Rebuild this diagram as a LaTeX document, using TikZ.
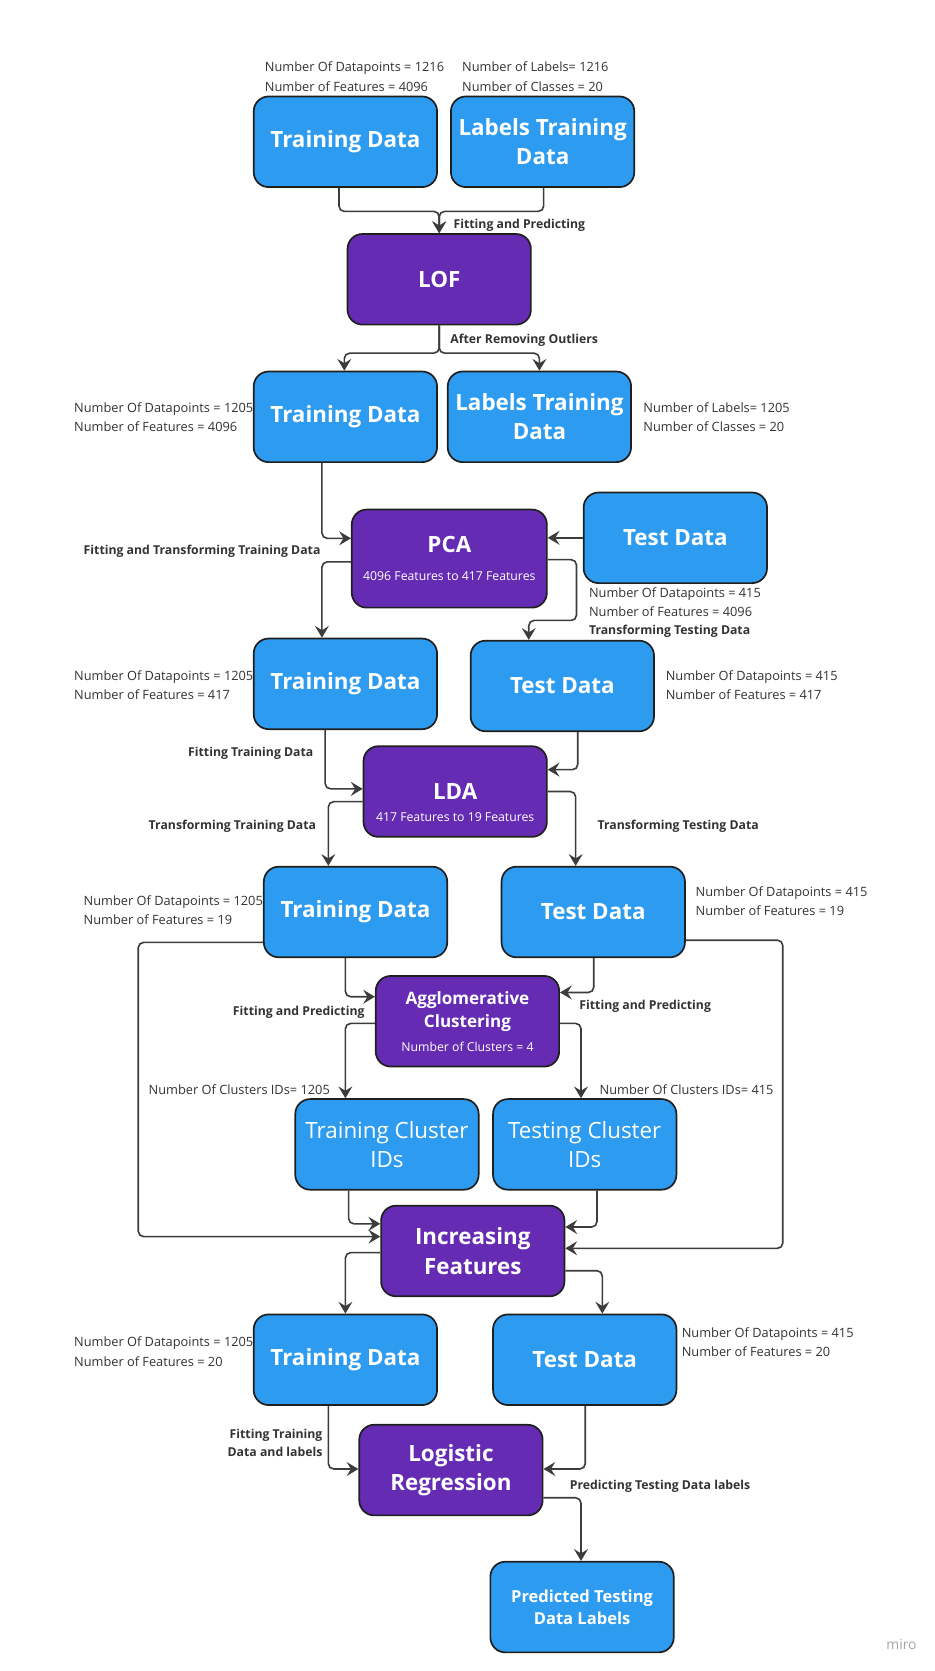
\documentclass[tikz,border=0pt]{standalone}
\usepackage{fontspec}
\setmainfont{Open Sans}
\usetikzlibrary{arrows.meta,calc}

\definecolor{boxblue}{HTML}{2D9BF0}
\definecolor{boxpurple}{HTML}{652CB3}
\definecolor{edgegray}{HTML}{3C3C3C}
\definecolor{txtgray}{HTML}{333333}
\newcommand{\boxtitle}{\fontsize{21}{27.5}\selectfont\bfseries}
\newcommand{\boxsmall}{\fontsize{16}{22}\selectfont\bfseries}
\newcommand{\boxsub}{\fontsize{11.5}{14}\selectfont\mdseries}
\newcommand{\numfont}{\fontsize{12}{18}\selectfont}
\newcommand{\lnkfont}{\fontsize{11.5}{17}\selectfont\bfseries}

\begin{document}
\begin{tikzpicture}[x=1pt,y=-1pt,
  block/.style={draw=black!88, line width=1.6pt, rounded corners=14pt,
    minimum width=172pt, minimum height=85pt, text=white, align=center, inner sep=2pt},
  data/.style={block, fill=boxblue, font=\boxtitle},
  proc/.style={block, fill=boxpurple, font=\boxtitle},
  link/.style={draw=edgegray, line width=1.5pt, rounded corners=5pt,
    -{Stealth[length=11pt,width=13pt,inset=4pt]}},
  numtxt/.style={anchor=west, align=left, text=txtgray, font=\numfont},
  lnktxt/.style={anchor=west, align=left, text=txtgray, font=\lnkfont}]
  \fill[white] (0,0) rectangle (876.2,1567.5);
  \useasboundingbox (0,0) rectangle (876.2,1567.5);

  % boxes
  \node[data] (trn1) at (324,133) {Training Data};
  \node[data] (lbl1) at (509,133) {Labels Training\\Data};
  \node[proc] (lof) at (412,262) {LOF};
  \node[data] (trn2) at (324,391) {Training Data};
  \node[data] (lbl2) at (506,391) {Labels Training\\Data};
  \node[proc, minimum width=183pt, minimum height=92pt] (pca) at (421.5,524)
    {PCA\\[-1pt]{\boxsub 4096 Features to 417 Features}};
  \node[data] (tst1) at (633.5,504.5) {Test Data};
  \node[data] (trn3) at (324,641.5) {Training Data};
  \node[data] (tst2) at (527.5,643.5) {Test Data};
  \node[proc] (lda) at (427,742.5) {LDA};
  \node[text=white, font=\boxsub] (ldasub) at ([yshift=-24pt]lda.center) {417 Features to 19 Features};
  \node[data] (trn4) at (333.5,855.5) {Training Data};
  \node[data] (tst3) at (556.5,855.5) {Test Data};
  \node[proc, font=\boxsmall] (agg) at (438.5,958)
    {Agglomerative\\Clustering\\{\boxsub Number of Clusters = 4}};
  \node[data, font=\boxtitle\mdseries] (tcl) at (363,1073.5) {Training Cluster\\IDs};
  \node[data, font=\boxtitle\mdseries] (scl) at (548.5,1073.5) {Testing Cluster\\IDs};
  \node[proc] (inc) at (443.5,1173.5) {Increasing\\Features};
  \node[data] (trn5) at (324,1275.5) {Training Data};
  \node[data] (tst4) at (548.5,1275.5) {Test Data};
  \node[proc] (lr) at (423,1379) {Logistic\\Regression};
  \node[data, font=\fontsize{15.5}{21}\selectfont\bfseries] (pred) at (546,1507.5) {Predicted Testing\\Data Labels};

  % connectors
  \draw[link] ([xshift=-6pt]trn1.south) -- ++(0,22) -| (lof.north);
  \draw[link] ([xshift=1pt]lbl1.south) -- ++(0,22) -| (lof.north);
  \draw[link] (lof.south) -- ++(0,26) -| ([xshift=-1pt]trn2.north);
  \draw[link] (lof.south) -- ++(0,26) -| (lbl2.north);
  \draw[link] ([xshift=-22pt]trn2.south) |- ([yshift=19pt]pca.west);
  \draw[link] (tst1.west) -- (pca.east |- tst1.west);
  \draw[link] ([yshift=-3pt]pca.west) -| ([xshift=-22pt]trn3.north);
  \draw[link] ([yshift=-1pt]pca.east) -- ++(27,0) -- ++(0,57) -| ([xshift=-31.5pt]tst2.north);
  \draw[link] ([xshift=-19pt]trn3.south) |- ([yshift=2.5pt]lda.west);
  \draw[link] ([xshift=14.5pt]tst2.south) |- ([yshift=20.5pt]lda.east);
  \draw[link] ([yshift=-9.5pt]lda.west) -| ([xshift=-25.5pt]trn4.north);
  \draw[link] (lda.east) -| ([xshift=-16.5pt]tst3.north);
  \draw[link] ([xshift=-9.5pt]trn4.south) |- ([yshift=23pt]agg.west);
  \draw[link] ([yshift=-28.5pt]trn4.west) -- ++(-117,0) |- ([yshift=13.5pt]inc.west);
  \draw[link] ([xshift=0.5pt]tst3.south) |- ([yshift=27pt]agg.east);
  \draw[link] ([yshift=-26.5pt]tst3.east) -- ++(91,0) |- ([yshift=2.5pt]inc.east);
  \draw[link] ([yshift=-2pt]agg.west) -| ([xshift=-39pt]tcl.north);
  \draw[link] ([yshift=-2pt]agg.east) -| ([xshift=-3.5pt]scl.north);
  \draw[link] ([xshift=-36pt]tcl.south) |- ([yshift=25.5pt]inc.west);
  \draw[link] ([xshift=11.5pt]scl.south) |- ([yshift=22.5pt]inc.east);
  \draw[link] ([yshift=-1.5pt]inc.west) -| (trn5.north);
  \draw[link] ([yshift=-18.5pt]inc.east) -| ([xshift=16.5pt]tst4.north);
  \draw[link] ([xshift=-16pt]trn5.south) |- ([yshift=1pt]lr.west);
  \draw[link] ([xshift=0.5pt]tst4.south) |- ([yshift=1pt]lr.east);
  \draw[link] ([yshift=-26pt]lr.east) -| ([xshift=-1pt]pred.north);

  % annotations
  \node[numtxt] (n1) at (245,72) {Number Of Datapoints = 1216\\Number of Features = 4096};
  \node[numtxt] (n2) at (430,72) {Number of Labels= 1216\\Number of Classes = 20};
  \node[lnktxt] (l1) at (422,211) {Fitting and Predicting};
  \node[lnktxt] (l2) at (419,319) {After Removing Outliers};
  \node[numtxt] (n3) at (66,391.5) {Number Of Datapoints = 1205\\Number of Features = 4096};
  \node[numtxt] (n4) at (600,391.5) {Number of Labels= 1205\\Number of Classes = 20};
  \node[lnktxt] (l3) at (75,517) {Fitting and Transforming Training Data};
  \node[numtxt] (n5) at (549,565) {Number Of Datapoints = 415\\Number of Features = 4096};
  \node[lnktxt] (l4) at (549,592) {Transforming Testing Data};
  \node[numtxt] (n6) at (66,643) {Number Of Datapoints = 1205\\Number of Features = 417};
  \node[numtxt] (n7) at (621,643) {Number Of Datapoints = 415\\Number of Features = 417};
  \node[lnktxt] (l5) at (173,707) {Fitting Training Data};
  \node[lnktxt] (l6) at (136,775) {Transforming Training Data};
  \node[lnktxt] (l7) at (557,775) {Transforming Testing Data};
  \node[numtxt] (n8) at (75,853.5) {Number Of Datapoints = 1205\\Number of Features = 19};
  \node[numtxt] (n9) at (649,845) {Number Of Datapoints = 415\\Number of Features = 19};
  \node[lnktxt] (l8) at (215,950) {Fitting and Predicting};
  \node[lnktxt] (l9) at (540,944) {Fitting and Predicting};
  \node[numtxt] (n10) at (136,1022) {Number Of Clusters IDs= 1205};
  \node[numtxt] (n11) at (559,1022) {Number Of Clusters IDs= 415};
  \node[numtxt] (n12) at (66,1268) {Number Of Datapoints = 1205\\Number of Features = 20};
  \node[numtxt] (n13) at (636,1259) {Number Of Datapoints = 415\\Number of Features = 20};
  \node[lnktxt, anchor=east, align=right] (l10) at (306,1353.5) {Fitting Training\\Data and labels};
  \node[lnktxt] (l11) at (531,1394) {Predicting Testing Data labels};
  \node[anchor=west, text=black!35, font=\fontsize{13}{15}\selectfont] (wm) at (828,1543) {miro};
\end{tikzpicture}
\end{document}
